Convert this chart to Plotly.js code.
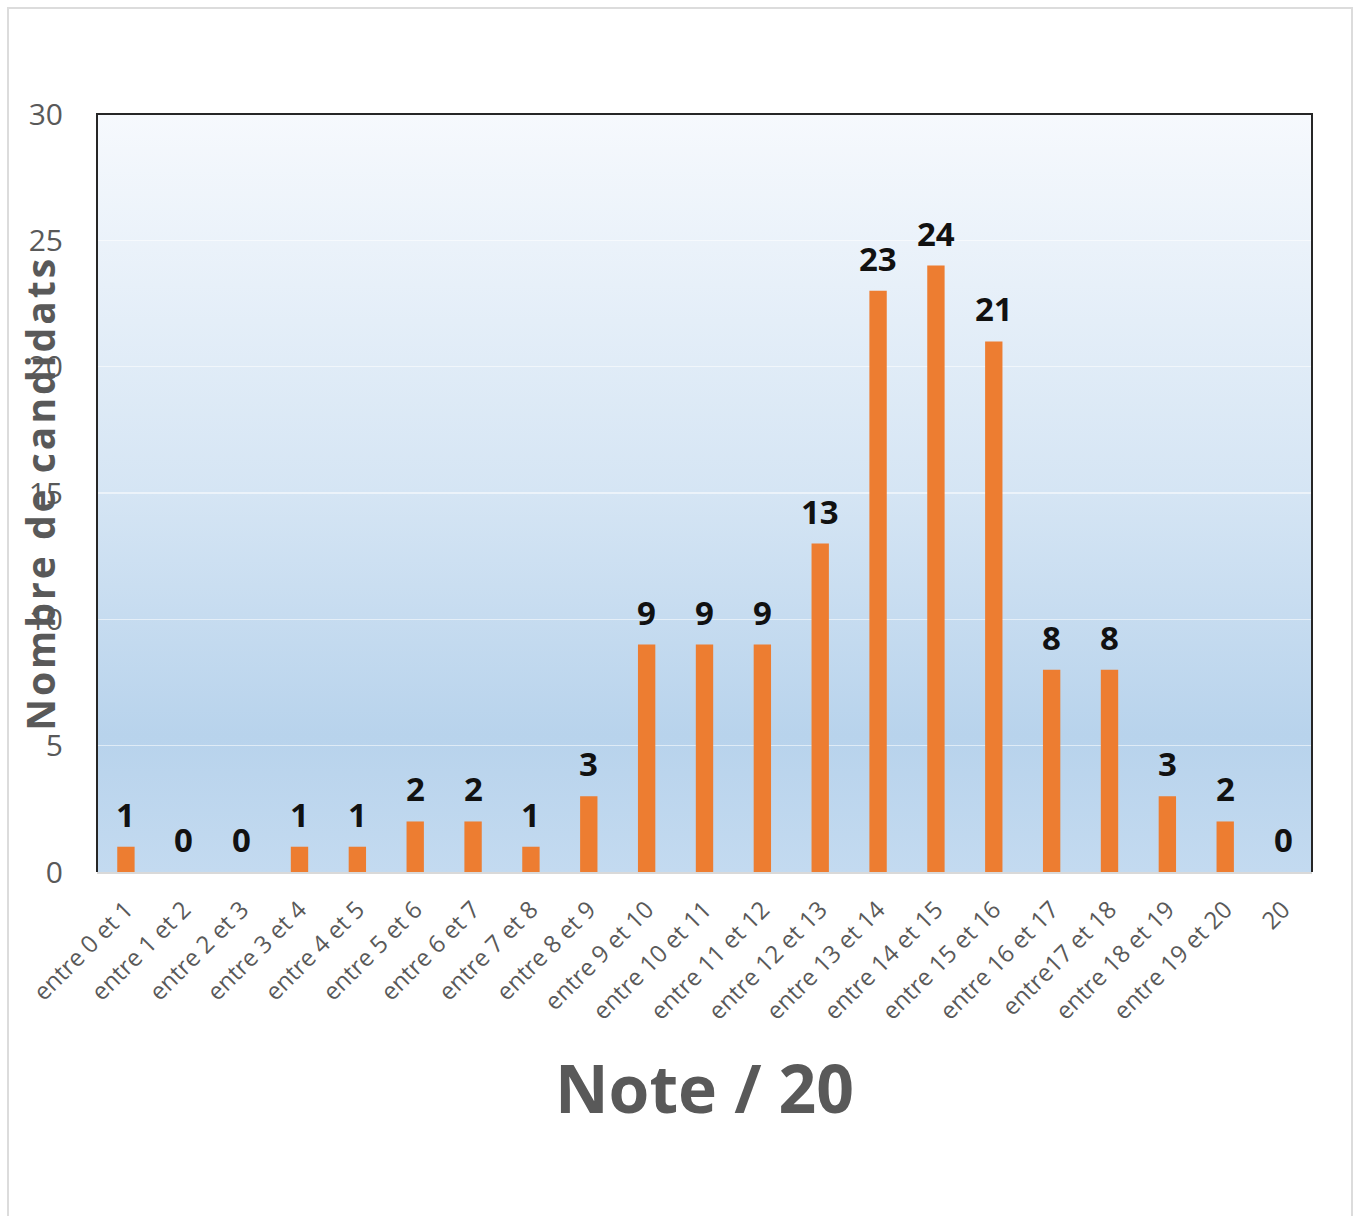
<!DOCTYPE html>
<html>
<head>
<meta charset="utf-8">
<script src="https://cdn.plot.ly/plotly-3.0.1.min.js"></script>
<style>
  body { margin: 0; background: #ffffff; }
  #chart { width: 1357px; height: 1216px; }
  #frame { position: absolute; left: 7px; top: 7px; width: 1342px; height: 1220px; border: 2px solid #dcdcdc; pointer-events: none; }
  .annotation.ytitle-ann text { letter-spacing: 3px; }
</style>
</head>
<body>
<div id="chart"></div>
<div id="frame"></div>
<script>
const categories = ["entre 0 et 1","entre 1 et 2","entre 2 et 3","entre 3 et 4","entre 4 et 5","entre 5 et 6","entre 6 et 7","entre 7 et 8","entre 8 et 9","entre 9 et 10","entre 10 et 11","entre 11 et 12","entre 12 et 13","entre 13 et 14","entre 14 et 15","entre 15 et 16","entre 16 et 17","entre17 et 18","entre 18 et 19","entre 19 et 20","20"];
const counts = [1,0,0,1,1,2,2,1,3,9,9,9,13,23,24,21,8,8,3,2,0];
const yTickValues = [0,5,10,15,20,25,30];
const xTitle = "Note / 20";
const yTitle = "Nombre de candidats";

const gradSvg = '<svg xmlns="http://www.w3.org/2000/svg" width="100" height="100" preserveAspectRatio="none">' +
  '<defs><linearGradient id="g" x1="0" y1="0" x2="0" y2="1">' +
  '<stop offset="0" stop-color="#f6f9fd"/>' +
  '<stop offset="0.5" stop-color="#d5e5f4"/>' +
  '<stop offset="0.82" stop-color="#b8d3ec"/>' +
  '<stop offset="1" stop-color="#c3daf0"/>' +
  '</linearGradient></defs><rect width="100" height="100" fill="url(#g)"/></svg>';
const gradUri = 'data:image/svg+xml;charset=utf-8,' + encodeURIComponent(gradSvg);

const valueLabels = categories.map((c, i) => ({
  x: c, y: counts[i], xref: 'x', yref: 'y',
  text: String(counts[i]), showarrow: false,
  yanchor: 'bottom', yshift: 8,
  font: {family: 'Open Sans', size: 33, color: '#111111', weight: 'bold'}
}));

const trace = {
  type: 'bar', x: categories, y: counts,
  marker: {color: '#ed7d31'},
  hoverinfo: 'x+y'
};

const layout = {
  width: 1357, height: 1216,
  margin: {l: 97, r: 45, t: 114, b: 344},
  paper_bgcolor: '#ffffff',
  plot_bgcolor: 'rgba(0,0,0,0)',
  bargap: 0.7,
  showlegend: false,
  font: {family: 'Open Sans', color: '#595959'},
  images: [{
    source: gradUri, xref: 'paper', yref: 'paper',
    x: 0, y: 1, sizex: 1, sizey: 1, sizing: 'stretch',
    xanchor: 'left', yanchor: 'top', layer: 'below'
  }],
  xaxis: {
    type: 'category', tickangle: -45,
    tickfont: {family: 'Open Sans', size: 24, color: '#595959'},
    showline: true, linecolor: '#d9d9d9', linewidth: 2,
    ticks: '', showgrid: false, ticklabelstandoff: 12,
    title: {text: xTitle, font: {family: 'Open Sans', size: 66, color: '#595959', weight: 'bold'}, standoff: 41}
  },
  yaxis: {
    range: [0, 30], tickvals: yTickValues, ticks: '',
    tickfont: {family: 'Open Sans', size: 30, color: '#595959'},
    showgrid: true, gridcolor: 'rgba(255,255,255,0.55)', gridwidth: 1.5,
    zeroline: false, showline: false, ticklabelstandoff: 33
  },
  shapes: [{
    type: 'path', xref: 'paper', yref: 'paper',
    path: 'M0,0 L0,1 L1,1 L1,0',
    line: {color: '#262626', width: 2}
  }],
  annotations: valueLabels.concat([{
    text: yTitle, xref: 'paper', yref: 'paper',
    x: -0.0475, y: 0.5, xanchor: 'center', yanchor: 'middle',
    textangle: -90, showarrow: false,
    font: {family: 'Open Sans', size: 39, color: '#595959', weight: 'bold'}
  }])
};

Plotly.newPlot('chart', [trace], layout, {displayModeBar: false, staticPlot: true}).then(() => {
  const anns = document.querySelectorAll('.annotation');
  const last = anns[anns.length - 1];
  if (last) last.classList.add('ytitle-ann');
});
</script>
</body>
</html>
